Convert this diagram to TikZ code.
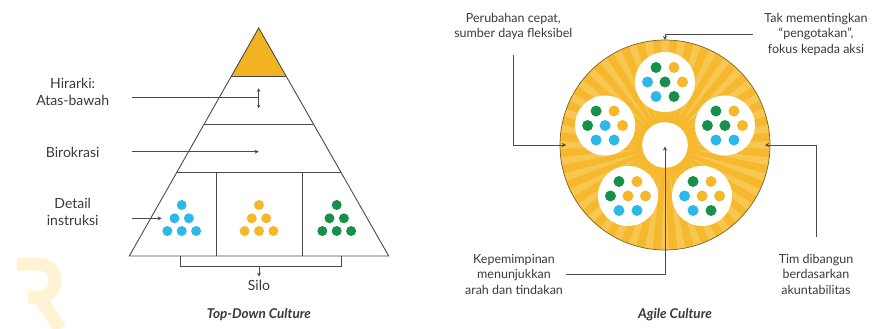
\documentclass[tikz,border=0pt]{standalone}
\usepackage{fontspec}
\setmainfont{Lato}
\usetikzlibrary{arrows.meta, positioning, calc}
\definecolor{AgileGold}{HTML}{F5B82E}
\definecolor{AgileRay}{HTML}{F8C752}
\definecolor{AgileRim}{HTML}{7E611C}
\definecolor{ApexGold}{HTML}{F2B321}
\definecolor{tmB}{HTML}{2DB8EA}
\definecolor{tmY}{HTML}{F4B82A}
\definecolor{tmG}{HTML}{16904A}
\definecolor{InkGray}{HTML}{3A3A3A}
\definecolor{LineGray}{HTML}{4A4A4A}
\definecolor{MarkTint}{HTML}{FFF3D4}

\tikzset{
  lbl/.style={font=\fontsize{12.5}{15.5}\selectfont, text=InkGray, align=center, inner sep=0pt},
  biglbl/.style={lbl, font=\fontsize{14}{17}\selectfont},
  ttl/.style={font=\fontsize{13.5}{15}\selectfont\bfseries\itshape, text=InkGray, inner sep=0pt},
  pyr/.style={draw=LineGray, line width=0.9pt},
  lead/.style={draw=LineGray, line width=0.8pt},
  leadtip/.style={lead, -{Stealth[length=4pt,width=4pt]}},
  blob/.style={circle, fill=white, inner sep=0pt},
}

\begin{document}
\begin{tikzpicture}[x=1pt, y=-1pt]
  \useasboundingbox (0,0) rectangle (872,329);

  % Watermark
  \draw[MarkTint, line width=13pt] (17,264) -- (38,264)
    .. controls (61,264) and (61,297) .. (38,297) -- (28,297);
  \draw[MarkTint, line width=13pt] (40,297) -- (60,329);

  % Pyramid
  \coordinate (apex) at (258.7,28);
  \coordinate (baseL) at (129.3,256);
  \coordinate (baseR) at (388.7,256);
  \fill[ApexGold] (apex) -- ($(apex)!0.2105!(baseL)$) -- ($(apex)!0.2105!(baseR)$) -- cycle;
  \draw[pyr] (apex) -- (baseL) -- (baseR) -- cycle;
  \foreach \f in {0.2105,0.421,0.6346}
    \draw[pyr] ($(apex)!\f!(baseL)$) -- ($(apex)!\f!(baseR)$);
  \draw[pyr] (216,172.7) -- (216,256);
  \draw[pyr] (302.7,172.7) -- (302.7,256);

  % Silo dots
  \foreach \cx/\col in {181.7/tmB, 259/tmY, 336.7/tmG}
    \foreach \dx/\dy in {0/-13.3, -7.2/0, 7.2/0, -14.4/12.7, 0/12.7, 14.4/12.7}
      \fill[fill=\col] (\cx+\dx,218.3+\dy) circle (5);

  \node[biglbl] (hier) at (72.7,92.3) {Hirarki:\\Atas-bawah};
  \node[biglbl] (biro) at (72.7,152.3) {Birokrasi};
  \node[biglbl] (detail) at (72.7,211.7) {Detail\\instruksi};

  \coordinate (hierFrom) at (131.7,97.3);
  \coordinate (hierTo) at (258.7,97.3);
  \draw[lead] (hierFrom) -- (hierTo);
  \draw[lead, {Stealth[length=3.5pt,width=3.5pt]}-{Stealth[length=3.5pt,width=3.5pt]}]
    ($(hierTo)+(0,-9)$) -- ($(hierTo)+(0,11)$);
  \coordinate (biroFrom) at (131.7,151.7);
  \coordinate (biroTo) at (258.7,151.7);
  \draw[leadtip] (biroFrom) -- (biroTo);
  \coordinate (detailFrom) at (131.7,218.3);
  \coordinate (detailTo) at (161.7,218.3);
  \draw[leadtip] (detailFrom) -- (detailTo);

  % Silo bracket
  \node[biglbl] (silo) at (259,285) {Silo};
  \draw[lead] (180,256) -- (180,266.7) -- (341.3,266.7) -- (341.3,256);
  \coordinate (siloTop) at (259,266.7);
  \draw[leadtip, shorten >=3pt] (siloTop) -- (silo.north);

  \node[ttl] (tdTitle) at (259,315) {Top-Down Culture};

  % Agile circle
  \coordinate (hub) at (665,145);
  \fill[AgileGold] (hub) circle (105);
  \begin{scope}
    \clip (hub) circle (105);
    \foreach \a in {0,9,...,351}
      \fill[AgileRay] ($(hub)+(\a-0.5:30)$) -- ($(hub)+(\a-2.2:112)$)
        -- ($(hub)+(\a+2.2:112)$) -- ($(hub)+(\a+0.5:30)$) -- cycle;
  \end{scope}
  \draw[AgileRim, line width=0.7pt] (hub) circle (105);
  \node[blob, minimum size=45.6pt] (core) at (hub) {};

  \foreach \ang/\ca/\cb/\cc/\cd/\ce/\cf/\cg [count=\i] in {
      90/tmG/tmY/tmB/tmG/tmY/tmB/tmG,
      162/tmG/tmY/tmG/tmB/tmY/tmB/tmB,
      18/tmG/tmY/tmG/tmG/tmY/tmB/tmB,
      234/tmG/tmY/tmG/tmY/tmY/tmB/tmB,
      306/tmG/tmY/tmB/tmY/tmY/tmB/tmG} {
    \node[blob, minimum size=60pt] (team\i) at ($(hub)+(-\ang:63)$) {};
    \foreach \dx/\dy/\c in {-9/-14.5/\ca, 9/-14.5/\cb, -17.5/0/\cc, 0/0/\cd,
        17.5/0/\ce, -9/14.5/\cf, 9/14.5/\cg}
      \fill[fill=\c] ($(team\i)+(\dx,\dy)$) circle (5.5);
  }

  \node[lbl] (rapid) at (513.3,26.7) {Perubahan cepat,\\sumber daya fleksibel};
  \node[lbl] (action) at (816,34.3) {Tak mementingkan\\``pengotakan'',\\fokus kepada aksi};
  \node[lbl] (account) at (816,274.3) {Tim dibangun\\berdasarkan\\akuntabilitas};
  \node[lbl] (leader) at (514,274.3) {Kepemimpinan\\menunjukkan\\arah dan tindakan};

  \draw[leadtip] ([yshift=-15pt]rapid.south) |- ($(hub)+(180:99)$);
  \draw[leadtip] ([xshift=-11pt]action.west) -| ($(hub)+(-90:105)$);
  \draw[leadtip] ([yshift=17pt]account.north) |- ($(hub)+(0:100)$);
  \draw[leadtip, shorten >=1.5pt] ([xshift=3pt]leader.east) -| (core.center);

  \node[ttl] (agTitle) at (675,315) {Agile Culture};
\end{tikzpicture}
\end{document}
